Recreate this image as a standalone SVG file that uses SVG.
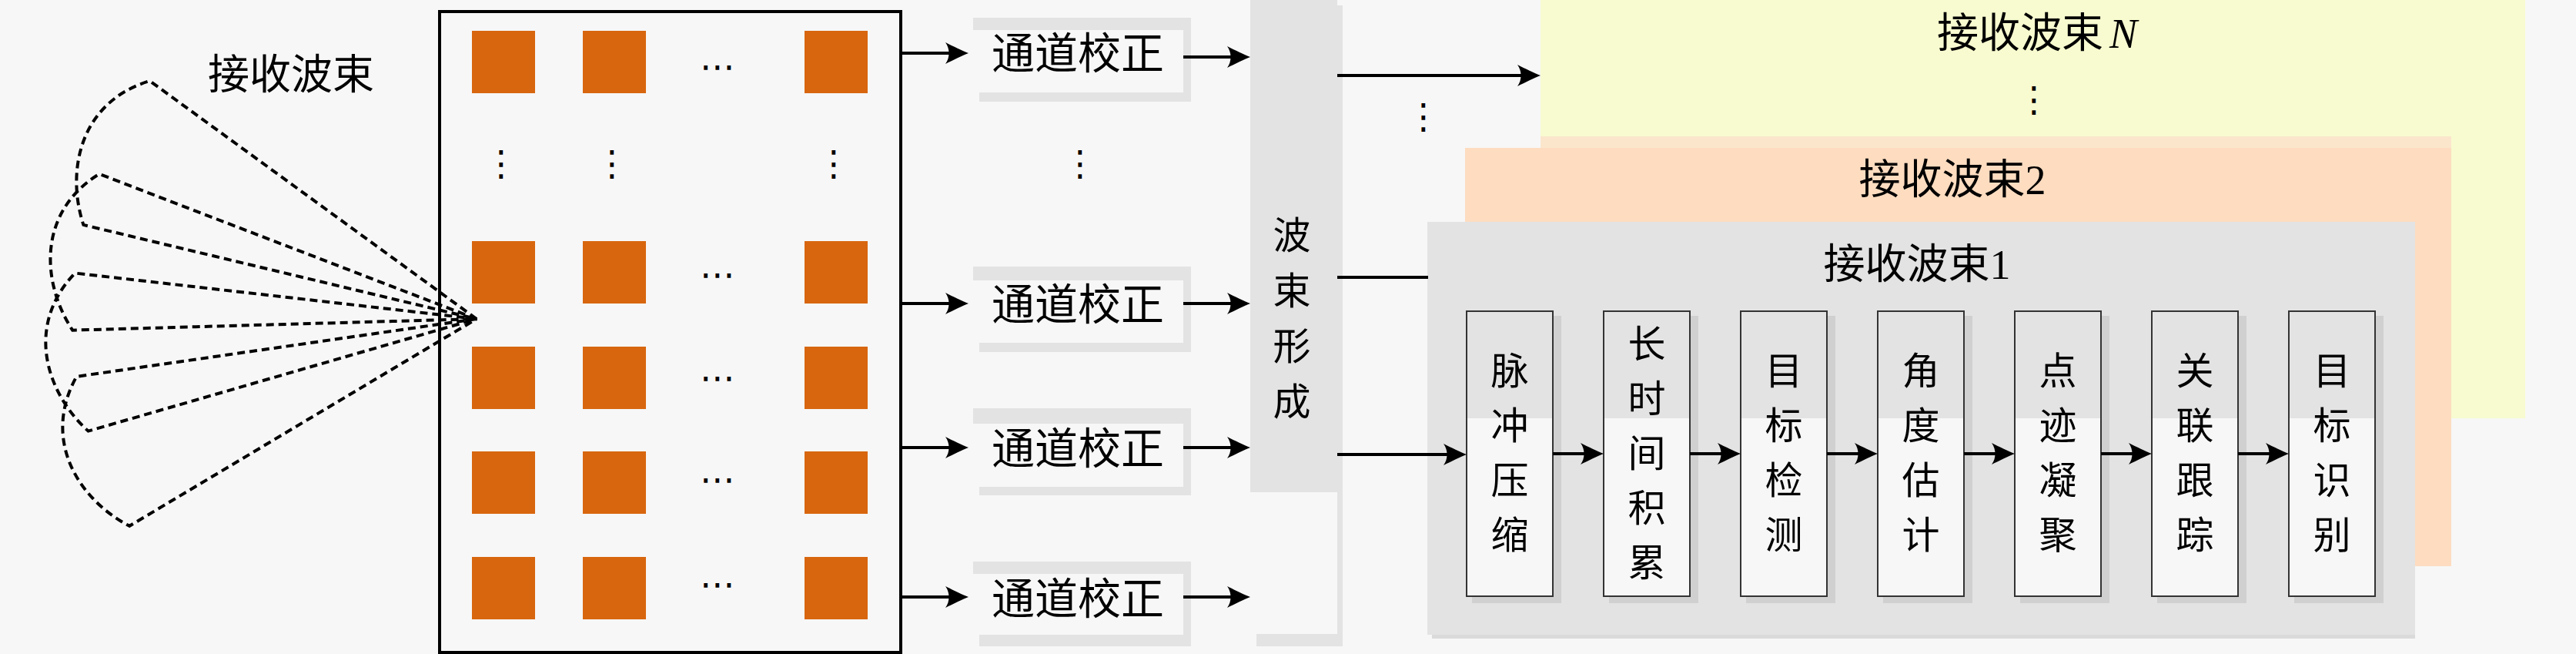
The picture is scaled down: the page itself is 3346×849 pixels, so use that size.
<svg xmlns="http://www.w3.org/2000/svg" xmlns:xlink="http://www.w3.org/1999/xlink" width="3346" height="849" viewBox="0 0 3346 849">
<style>
.cjk{font-family:"Noto Sans CJK SC",sans-serif;font-size:54px;fill:#000}
.vt{font-family:"Noto Sans CJK SC",sans-serif;font-size:49px;fill:#000}
.cal{font-family:"Noto Sans CJK SC",sans-serif;font-size:56px;fill:#000}
.mix{font-family:"Liberation Serif","Noto Sans CJK SC",serif;font-size:54px;fill:#000}
.dots{font-family:"DejaVu Sans",sans-serif;font-size:46px;fill:#000}
.sq{fill:#d8660e}
.grey{fill:#e3e3e3}
.light{fill:#f7f7f7}
.pshadow{fill:#d0d0d0}
.pborder{fill:none;stroke:#333;stroke-width:2}
.conn{fill:none;stroke:#000;stroke-width:4}
.arr{marker-end:url(#ah)}
.fan{fill:none;stroke:#000;stroke-width:4;stroke-dasharray:10 6}
</style>
<defs>
<marker id="ah" markerUnits="userSpaceOnUse" viewBox="-32 -16 34 32" refX="-10" refY="0" markerWidth="34" markerHeight="32" orient="auto">
<path d="M0,0 C-8,-3 -20,-9 -30,-14 C-24,-6 -24,6 -30,14 C-20,9 -8,3 0,0 Z" fill="#000"/>
</marker>
<path id="wedge" class="fan" d="M619,414 L104.2,311.1 C33,374 54,463 104.2,516.9 Z"/>
</defs>
<rect x="0" y="0" width="3346" height="849" fill="#f7f7f7"/>

<g id="beam-label"><text class="cjk" x="378" y="115.5" text-anchor="middle">接收波束</text></g>

<g id="array">
<rect x="571" y="15" width="599" height="832" fill="#f7f7f7" stroke="#000" stroke-width="4"/>
<rect class="sq" x="613" y="40" width="82" height="81"/><rect class="sq" x="757" y="40" width="82" height="81"/><rect class="sq" x="1045" y="40" width="82" height="81"/>
<rect class="sq" x="613" y="313" width="82" height="81"/><rect class="sq" x="757" y="313" width="82" height="81"/><rect class="sq" x="1045" y="313" width="82" height="81"/>
<rect class="sq" x="613" y="450" width="82" height="81"/><rect class="sq" x="757" y="450" width="82" height="81"/><rect class="sq" x="1045" y="450" width="82" height="81"/>
<rect class="sq" x="613" y="586" width="82" height="81"/><rect class="sq" x="757" y="586" width="82" height="81"/><rect class="sq" x="1045" y="586" width="82" height="81"/>
<rect class="sq" x="613" y="723" width="82" height="81"/><rect class="sq" x="757" y="723" width="82" height="81"/><rect class="sq" x="1045" y="723" width="82" height="81"/>
<text class="dots" x="932" y="102" text-anchor="middle">⋯</text>
<text class="dots" x="932" y="372" text-anchor="middle">⋯</text>
<text class="dots" x="932" y="506" text-anchor="middle">⋯</text>
<text class="dots" x="932" y="638" text-anchor="middle">⋯</text>
<text class="dots" x="932" y="774" text-anchor="middle">⋯</text>
<text class="dots" x="651" y="228" text-anchor="middle">⋮</text>
<text class="dots" x="795" y="228" text-anchor="middle">⋮</text>
<text class="dots" x="1083" y="228" text-anchor="middle">⋮</text>
</g>

<g id="fan">
<use xlink:href="#wedge" href="#wedge" transform="rotate(24.75 619 414)"/>
<use xlink:href="#wedge" href="#wedge" transform="rotate(9.7 619 414)"/>
<use xlink:href="#wedge" href="#wedge" transform="rotate(-4.8 619 414)"/>
<use xlink:href="#wedge" href="#wedge" transform="rotate(-19.5 619 414)"/>
</g>

<g id="cal-1">
<rect class="grey" x="1264" y="23" width="283" height="16"/><rect class="grey" x="1272" y="23" width="275" height="109"/><rect class="light" x="1264" y="39" width="273" height="81"/>
<text class="cal" x="1400" y="89" text-anchor="middle">通道校正</text>
</g>
<g id="cal-2">
<rect class="grey" x="1264" y="346" width="283" height="18"/><rect class="grey" x="1272" y="346" width="275" height="111"/><rect class="light" x="1264" y="364" width="273" height="81"/>
<text class="cal" x="1400" y="415" text-anchor="middle">通道校正</text>
</g>
<g id="cal-3">
<rect class="grey" x="1264" y="530" width="283" height="20"/><rect class="grey" x="1272" y="530" width="275" height="113"/><rect class="light" x="1264" y="550" width="273" height="82"/>
<text class="cal" x="1400" y="602" text-anchor="middle">通道校正</text>
</g>
<g id="cal-4">
<rect class="grey" x="1264" y="729" width="283" height="16"/><rect class="grey" x="1272" y="729" width="275" height="110"/><rect class="light" x="1264" y="745" width="273" height="79"/>
<text class="cal" x="1400" y="797" text-anchor="middle">通道校正</text>
</g>
<g id="cal-dots"><text class="dots" x="1403" y="228" text-anchor="middle">⋮</text></g>

<g id="beamforming">
<rect class="grey" x="1632" y="7" width="112" height="832"/>
<rect class="light" x="1624" y="0" width="113" height="823"/>
<rect class="grey" x="1624" y="0" width="113" height="639"/>
<text class="vt" text-anchor="middle"><tspan x="1678" y="322.5">波</tspan><tspan x="1678" y="394.5">束</tspan><tspan x="1678" y="466.5">形</tspan><tspan x="1678" y="538.5">成</tspan></text>
</g>
<g id="beam-dots"><text class="dots" x="1849" y="167" text-anchor="middle">⋮</text></g>

<g id="beam-N">
<rect x="2001" y="0" width="1279" height="543" fill="#f8fbcf"/>
<text class="mix" x="2646" y="62" text-anchor="middle">接收波束<tspan dx="8" font-style="italic">N</tspan></text>
<text class="dots" x="2642" y="145" text-anchor="middle">⋮</text>
</g>

<g id="beam-2">
<rect x="2001" y="177" width="1183" height="15" fill="#fbe6cc"/>
<rect x="1903" y="192" width="1281" height="543" fill="#fddcc0"/>
<text class="mix" x="2536" y="252" text-anchor="middle">接收波束2</text>
</g>

<g id="beam-1">
<rect x="1860" y="824" width="1277" height="5" fill="#dadada"/>
<rect class="grey" x="1854" y="288" width="1283" height="536"/>
<text class="mix" x="2490" y="361.5" text-anchor="middle">接收波束1</text>
</g>

<g id="pulse-compression">
<rect class="pshadow" x="1912" y="410" width="116" height="373"/><rect class="light" x="1905" y="404" width="112" height="370"/><rect class="grey" x="1905" y="404" width="112" height="139"/><rect class="pborder" x="1905" y="404" width="112" height="370"/>
<text class="vt" text-anchor="middle"><tspan x="1961" y="499">脉</tspan><tspan x="1961" y="570">冲</tspan><tspan x="1961" y="641">压</tspan><tspan x="1961" y="712">缩</tspan></text>
</g>
<g id="long-integration">
<rect class="pshadow" x="2090" y="410" width="116" height="373"/><rect class="light" x="2083" y="404" width="112" height="370"/><rect class="grey" x="2083" y="404" width="112" height="139"/><rect class="pborder" x="2083" y="404" width="112" height="370"/>
<text class="vt" text-anchor="middle"><tspan x="2139" y="463.5">长</tspan><tspan x="2139" y="534.5">时</tspan><tspan x="2139" y="605.5">间</tspan><tspan x="2139" y="676.5">积</tspan><tspan x="2139" y="747.5">累</tspan></text>
</g>
<g id="target-detection">
<rect class="pshadow" x="2268" y="410" width="116" height="373"/><rect class="light" x="2261" y="404" width="112" height="370"/><rect class="grey" x="2261" y="404" width="112" height="139"/><rect class="pborder" x="2261" y="404" width="112" height="370"/>
<text class="vt" text-anchor="middle"><tspan x="2317" y="499">目</tspan><tspan x="2317" y="570">标</tspan><tspan x="2317" y="641">检</tspan><tspan x="2317" y="712">测</tspan></text>
</g>
<g id="angle-estimation">
<rect class="pshadow" x="2446" y="410" width="116" height="373"/><rect class="light" x="2439" y="404" width="112" height="370"/><rect class="grey" x="2439" y="404" width="112" height="139"/><rect class="pborder" x="2439" y="404" width="112" height="370"/>
<text class="vt" text-anchor="middle"><tspan x="2495" y="499">角</tspan><tspan x="2495" y="570">度</tspan><tspan x="2495" y="641">估</tspan><tspan x="2495" y="712">计</tspan></text>
</g>
<g id="plot-condensation">
<rect class="pshadow" x="2624" y="410" width="116" height="373"/><rect class="light" x="2617" y="404" width="112" height="370"/><rect class="grey" x="2617" y="404" width="112" height="139"/><rect class="pborder" x="2617" y="404" width="112" height="370"/>
<text class="vt" text-anchor="middle"><tspan x="2673" y="499">点</tspan><tspan x="2673" y="570">迹</tspan><tspan x="2673" y="641">凝</tspan><tspan x="2673" y="712">聚</tspan></text>
</g>
<g id="association-tracking">
<rect class="pshadow" x="2802" y="410" width="116" height="373"/><rect class="light" x="2795" y="404" width="112" height="370"/><rect class="grey" x="2795" y="404" width="112" height="139"/><rect class="pborder" x="2795" y="404" width="112" height="370"/>
<text class="vt" text-anchor="middle"><tspan x="2851" y="499">关</tspan><tspan x="2851" y="570">联</tspan><tspan x="2851" y="641">跟</tspan><tspan x="2851" y="712">踪</tspan></text>
</g>
<g id="target-recognition">
<rect class="pshadow" x="2980" y="410" width="116" height="373"/><rect class="light" x="2973" y="404" width="112" height="370"/><rect class="grey" x="2973" y="404" width="112" height="139"/><rect class="pborder" x="2973" y="404" width="112" height="370"/>
<text class="vt" text-anchor="middle"><tspan x="3029" y="499">目</tspan><tspan x="3029" y="570">标</tspan><tspan x="3029" y="641">识</tspan><tspan x="3029" y="712">别</tspan></text>
</g>

<g id="connectors">
<path class="conn arr" d="M1170,69 H1248"/>
<path class="conn arr" d="M1170,394 H1248"/>
<path class="conn arr" d="M1170,581 H1248"/>
<path class="conn arr" d="M1170,775 H1248"/>
<path class="conn arr" d="M1537,74 H1614"/>
<path class="conn arr" d="M1537,394 H1614"/>
<path class="conn arr" d="M1537,581 H1614"/>
<path class="conn arr" d="M1537,775 H1614"/>
<path class="conn arr" d="M1737,98 H1991"/>
<path class="conn" d="M1737,360 H1855"/>
<path class="conn arr" d="M1737,590 H1895"/>
<path class="conn arr" d="M2017,589 H2073"/>
<path class="conn arr" d="M2195,589 H2251"/>
<path class="conn arr" d="M2373,589 H2429"/>
<path class="conn arr" d="M2551,589 H2607"/>
<path class="conn arr" d="M2729,589 H2785"/>
<path class="conn arr" d="M2907,589 H2963"/>
</g>
</svg>
